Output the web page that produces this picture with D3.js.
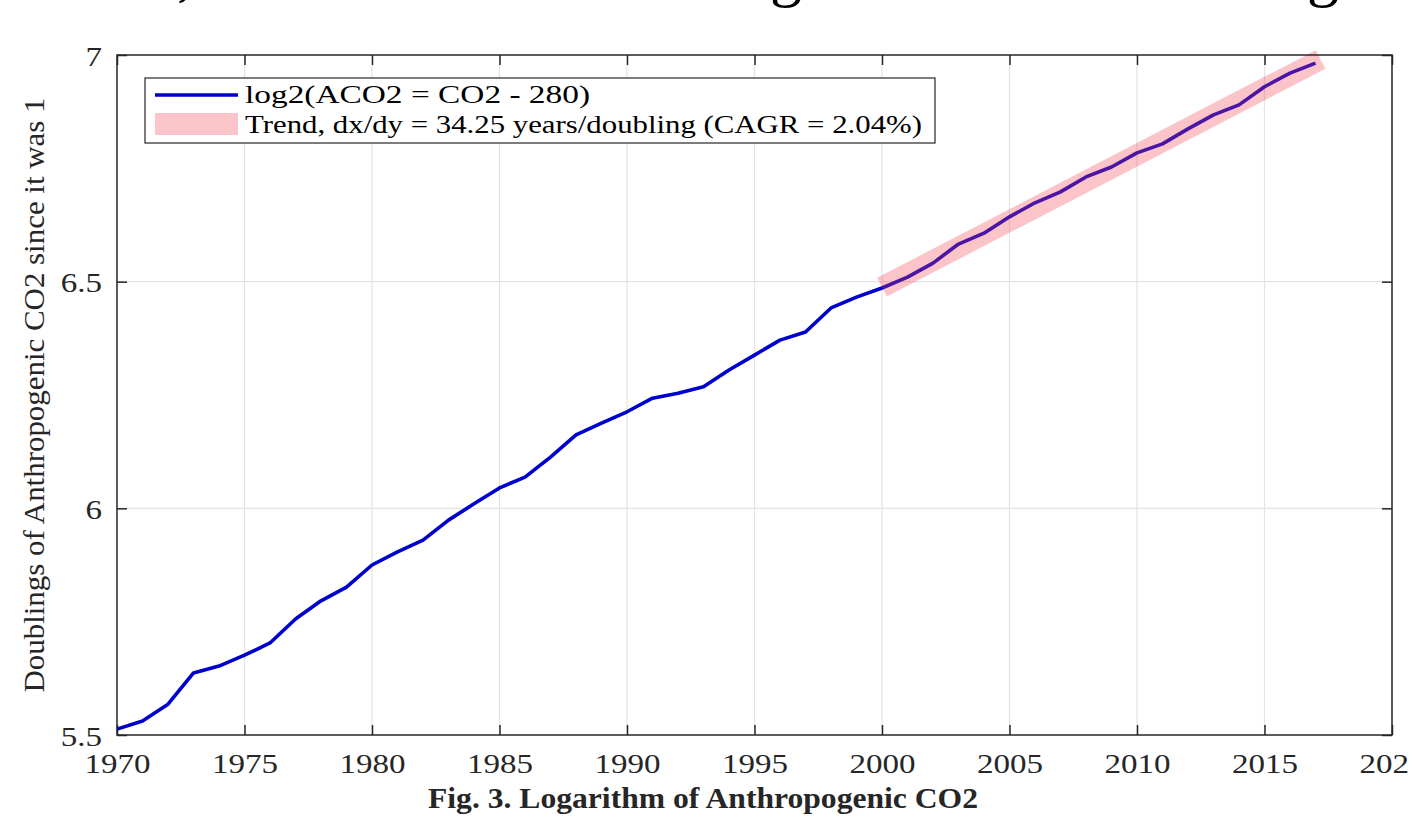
<!DOCTYPE html>
<html>
<head>
<meta charset="utf-8">
<script src="https://cdnjs.cloudflare.com/ajax/libs/d3/7.8.5/d3.min.js"></script>
<style>
  html, body { margin: 0; padding: 0; background: #fff; overflow: hidden; }
  text { font-family: "Liberation Serif", "Times New Roman", serif; fill: #262626; }
</style>
</head>
<body>
<div id="vis"></div>
<script>
// Data
var years = d3.range(1970, 2018);
var doublings = [
    5.513, 5.531, 5.568, 5.637, 5.652, 5.676, 5.703, 5.756, 5.796, 5.826,
    5.875, 5.904, 5.930, 5.974, 6.010, 6.045, 6.069, 6.113, 6.162, 6.188,
    6.213, 6.243, 6.254, 6.268, 6.305, 6.338, 6.371, 6.389, 6.442, 6.466,
    6.486, 6.510, 6.541, 6.583, 6.607, 6.643, 6.674, 6.698, 6.731, 6.753,
    6.784, 6.804, 6.837, 6.868, 6.890, 6.930, 6.960, 6.982
];
var trendStartYear = 2000,
    trendEndYear = 2017.2,
    trendStartValue = 6.488,
    yearsPerDoubling = 34.25;
var xTicks = [1970, 1975, 1980, 1985, 1990, 1995, 2000, 2005, 2010, 2015, 2020];
var yTicks = [5.5, 6, 6.5, 7];
var legendLabels = ["log2(ACO2 = CO2 - 280)", "Trend, dx/dy = 34.25 years/doubling (CAGR = 2.04%)"];

var width = 1409,
    height = 817,
    margin = { top: 55, right: 17, bottom: 82, left: 117 };

var stretch = 1.18; // the picture is a bit wider than tall

var svg = d3.select("#vis").append("svg")
    .attr("width", width)
    .attr("height", height);

var x = d3.scaleLinear()
    .domain([1970, 2020])
    .range([margin.left, width - margin.right]);

var y = d3.scaleLinear()
    .domain([5.5, 7])
    .range([height - margin.bottom, margin.top]);

// cropped descenders of a heading above the figure
svg.append("g").selectAll("text")
    .data([[185, ","], [786, "g"], [1323, "g"]])
    .enter().append("text")
    .attr("x", function(d) { return d[0]; })
    .attr("y", 0)
    .attr("text-anchor", "middle")
    .style("font-size", "64px")
    .style("fill", "#000")
    .text(function(d) { return d[1]; })
    .each(function() {
        // keep only the bottom few pixels showing, as in the source crop
        var b = this.getBBox();
        var bottom = b.y + b.height;
        d3.select(this).attr("y", 8 - bottom);
    });

// grid
svg.append("g")
    .selectAll("line")
    .data(xTicks.slice(1, -1))
    .enter().append("line")
    .attr("x1", function(d) { return x(d); })
    .attr("x2", function(d) { return x(d); })
    .attr("y1", y(5.5))
    .attr("y2", y(7))
    .attr("stroke", "#e3e3e3")
    .attr("stroke-width", 1.2);

svg.append("g")
    .selectAll("line")
    .data(yTicks.slice(1, -1))
    .enter().append("line")
    .attr("x1", x(1970))
    .attr("x2", x(2020))
    .attr("y1", function(d) { return y(d); })
    .attr("y2", function(d) { return y(d); })
    .attr("stroke", "#e3e3e3")
    .attr("stroke-width", 1.2);

// axes, ticks point inward
var xAxis = svg.append("g")
    .attr("transform", "translate(0," + y(5.5) + ")")
    .call(d3.axisBottom(x).tickValues(xTicks).tickFormat(d3.format("d")).tickSizeInner(-10).tickSizeOuter(0).tickPadding(22));

svg.append("g")
    .attr("transform", "translate(0," + y(7) + ")")
    .call(d3.axisTop(x).tickValues(xTicks).tickFormat("").tickSizeInner(-10).tickSizeOuter(0));

var yAxis = svg.append("g")
    .attr("transform", "translate(" + x(1970) + ",0)")
    .call(d3.axisLeft(y).tickValues(yTicks).tickFormat(d3.format("")).tickSizeInner(-10).tickSizeOuter(0));

svg.append("g")
    .attr("transform", "translate(" + x(2020) + ",0)")
    .call(d3.axisRight(y).tickValues(yTicks).tickFormat("").tickSizeInner(-10).tickSizeOuter(0));

svg.selectAll(".domain").remove();
svg.selectAll(".tick line").attr("stroke", "#262626").attr("stroke-width", 1.5);

xAxis.selectAll("text")
    .style("font-size", "28px")
    .attr("dy", 0)
    .attr("y", 38)
    .attr("transform", "scale(" + stretch + ",1)");

yAxis.selectAll("text")
    .style("font-size", "28px")
    .attr("x", -15 / stretch)
    .attr("dy", "0.36em")
    .attr("transform", "scale(" + stretch + ",1)");

// data line
var line = d3.line()
    .x(function(d, i) { return x(years[i]); })
    .y(function(d) { return y(d); });

svg.append("path")
    .datum(doublings)
    .attr("fill", "none")
    .attr("stroke", "#0000cc")
    .attr("stroke-width", 3.6)
    .attr("stroke-linejoin", "round")
    .attr("d", line);

// trend band, translucent pink on top
var trend = [trendStartYear, trendEndYear].map(function(t) {
    return [t, trendStartValue + (t - trendStartYear) / yearsPerDoubling];
});

svg.append("path")
    .datum(trend)
    .attr("fill", "none")
    .attr("stroke", "rgb(240,64,77)")
    .attr("stroke-opacity", 0.31)
    .attr("stroke-width", 21)
    .attr("stroke-linecap", "butt")
    .attr("d", d3.line().x(function(d) { return x(d[0]); }).y(function(d) { return y(d[1]); }));

// box
svg.append("rect")
    .attr("x", x(1970))
    .attr("y", y(7))
    .attr("width", x(2020) - x(1970))
    .attr("height", y(5.5) - y(7))
    .attr("fill", "none")
    .attr("stroke", "#262626")
    .attr("stroke-width", 1.5);

// legend
var legend = svg.append("g").attr("transform", "translate(145,78)");

legend.append("rect")
    .attr("width", 790)
    .attr("height", 65)
    .attr("fill", "#fff")
    .attr("stroke", "#262626")
    .attr("stroke-width", 1.2);

legend.append("line")
    .attr("x1", 10).attr("x2", 93)
    .attr("y1", 17).attr("y2", 17)
    .attr("stroke", "#0000cc")
    .attr("stroke-width", 3.6);

legend.append("rect")
    .attr("x", 10).attr("y", 35)
    .attr("width", 83).attr("height", 22)
    .attr("fill", "rgb(240,64,77)")
    .attr("fill-opacity", 0.31);

legend.selectAll("text.lab")
    .data(legendLabels)
    .enter().append("text")
    .attr("class", "lab")
    .attr("x", 100)
    .attr("y", function(d, i) { return 25 + i * 30; })
    .attr("textLength", function(d, i) { return i === 0 ? 345 : 677; })
    .attr("lengthAdjust", "spacingAndGlyphs")
    .style("font-size", "26px")
    .style("fill", "#000")
    .text(function(d) { return d; });

// labels
svg.append("text")
    .attr("transform", "translate(44," + 395 + ") rotate(-90)")
    .attr("text-anchor", "middle")
    .attr("textLength", 595)
    .attr("lengthAdjust", "spacingAndGlyphs")
    .style("font-size", "29px")
    .text("Doublings of Anthropogenic CO2 since it was 1");

svg.append("text")
    .attr("x", 703)
    .attr("y", 808)
    .attr("text-anchor", "middle")
    .attr("textLength", 550)
    .attr("lengthAdjust", "spacingAndGlyphs")
    .style("font-size", "30px")
    .style("font-weight", "bold")
    .text("Fig. 3. Logarithm of Anthropogenic CO2");
</script>
</body>
</html>
